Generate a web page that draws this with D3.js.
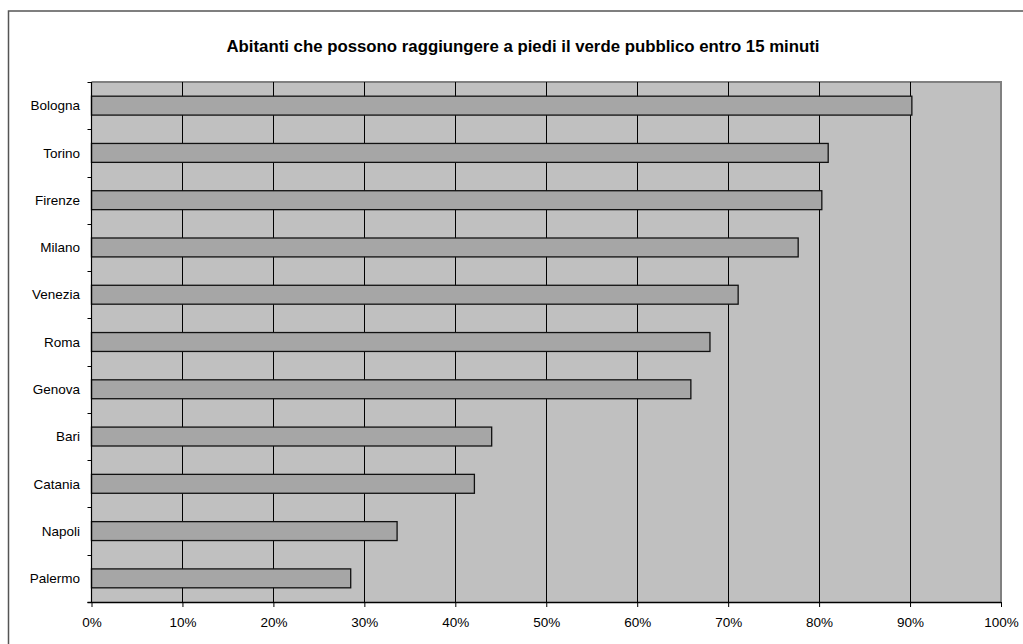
<!DOCTYPE html>
<html>
<head>
<meta charset="utf-8">
<script src="https://cdn.jsdelivr.net/npm/d3@7"></script>
<style>
  html, body { margin: 0; padding: 0; background: #ffffff; }
  svg { display: block; }
  text { font-family: "Liberation Sans", Arial, sans-serif; fill: #000; }
</style>
</head>
<body>
<svg id="chart" width="1023" height="644"></svg>
<script>
// Share of residents within a 15-minute walk of public green space
const cities = ["Bologna", "Torino", "Firenze", "Milano", "Venezia", "Roma",
                "Genova", "Bari", "Catania", "Napoli", "Palermo"];
const shares = [90.2, 81.0, 80.3, 77.7, 71.1, 68.0, 65.9, 44.0, 42.1, 33.6, 28.5];
const tickValues = [0, 10, 20, 30, 40, 50, 60, 70, 80, 90, 100];
const titleText = "Abitanti che possono raggiungere a piedi il verde pubblico entro 15 minuti";

const svg = d3.select("#chart");
const plot = { left: 91.5, right: 1001, top: 82, bottom: 602 };
const labelSize = "13.5px";

// outer chart frame
svg.append("rect")
  .attr("x", 8.5).attr("y", 11)
  .attr("width", 1030).attr("height", 650)
  .attr("fill", "#ffffff")
  .attr("stroke", "#555555").attr("stroke-width", 1.5);

svg.append("text")
  .attr("x", 523).attr("y", 52)
  .attr("text-anchor", "middle")
  .style("font-size", "16.8px").style("font-weight", "bold")
  .text(titleText);

const x = d3.scaleLinear().domain([0, 100]).range([plot.left, plot.right]);
const y = d3.scaleBand().domain(cities)
  .range([plot.top, plot.bottom])
  .paddingInner(0.6).paddingOuter(0.3);

// plot background
svg.append("rect")
  .attr("x", plot.left).attr("y", plot.top)
  .attr("width", plot.right - plot.left).attr("height", plot.bottom - plot.top)
  .attr("fill", "#c0c0c0");

// top and right plot borders
svg.append("path")
  .attr("d", `M${plot.left},${plot.top}H${plot.right}V${plot.bottom}`)
  .attr("fill", "none").attr("stroke", "#808080").attr("stroke-width", 2);

// vertical gridlines
svg.append("g")
  .selectAll("line")
  .data(tickValues.filter(v => v > 0 && v < 100))
  .join("line")
  .attr("x1", d => Math.round(x(d)) + 0.5).attr("x2", d => Math.round(x(d)) + 0.5)
  .attr("y1", plot.top).attr("y2", plot.bottom)
  .attr("stroke", "#000").attr("stroke-width", 1);

// bars
svg.append("g")
  .selectAll("rect")
  .data(cities.map((c, i) => ({ city: c, value: shares[i] })))
  .join("rect")
  .attr("x", x(0))
  .attr("y", d => y(d.city))
  .attr("width", d => x(d.value) - x(0))
  .attr("height", y.bandwidth())
  .attr("fill", "#a6a6a6")
  .attr("stroke", "#111").attr("stroke-width", 1.3);

// bottom axis
const xAxis = d3.axisBottom(x)
  .tickValues(tickValues)
  .tickFormat(d => d + "%")
  .tickSize(5).tickPadding(10.5);
const gx = svg.append("g")
  .attr("transform", `translate(0,${plot.bottom})`)
  .call(xAxis);
gx.select(".domain").attr("stroke", "#000").attr("stroke-width", 1.5)
  .attr("d", `M${plot.left - 4},0.5H${plot.right}`);
gx.selectAll(".tick line").attr("stroke", "#000");
gx.selectAll(".tick text").style("font-size", labelSize)
  .style("font-family", "'Liberation Sans', Arial, sans-serif");

// left axis: ticks at category boundaries
const gy = svg.append("g").attr("transform", `translate(${plot.left},0)`);
gy.append("line")
  .attr("x1", 0).attr("x2", 0)
  .attr("y1", plot.top).attr("y2", plot.bottom)
  .attr("stroke", "#000").attr("stroke-width", 1.2);
const boundaries = d3.range(cities.length + 1).map(i => plot.top + i * (plot.bottom - plot.top) / cities.length);
gy.selectAll("line.tk")
  .data(boundaries)
  .join("line").attr("class", "tk")
  .attr("x1", -4).attr("x2", 0)
  .attr("y1", d => Math.round(d) + 0.5).attr("y2", d => Math.round(d) + 0.5)
  .attr("stroke", "#000");
gy.selectAll("text")
  .data(cities)
  .join("text")
  .attr("x", -11.5)
  .attr("y", d => y(d) + y.bandwidth() / 2)
  .attr("dy", "0.35em")
  .attr("text-anchor", "end")
  .style("font-size", labelSize)
  .text(d => d);
</script>
</body>
</html>
